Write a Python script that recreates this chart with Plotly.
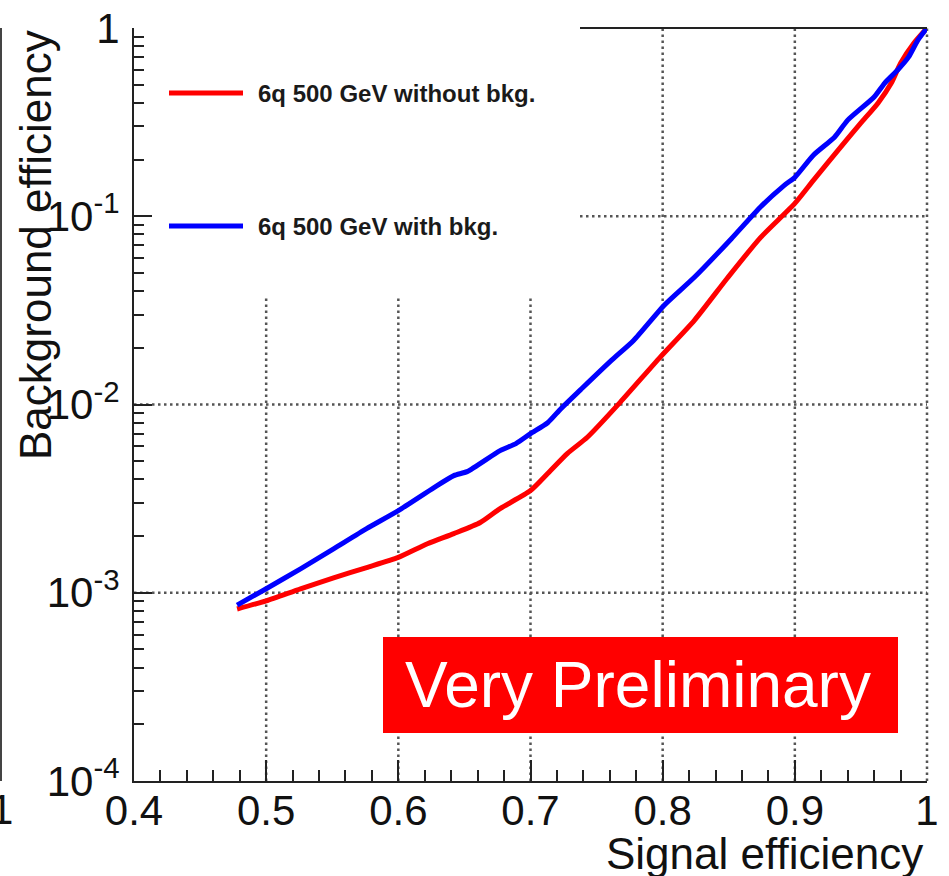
import math
import plotly.graph_objects as go

# ---------------- data ----------------
sig_eff_nobkg = [0.478, 0.500, 0.526, 0.551, 0.576, 0.600, 0.622, 0.642, 0.662, 0.677,
                 0.700, 0.713, 0.728, 0.743, 0.768, 0.798, 0.824, 0.849, 0.874, 0.900,
                 0.914, 0.937, 0.950, 0.963, 0.973, 0.980, 0.990, 1.000]
bkg_eff_nobkg = [8.2e-4, 9.06e-4, 1.05e-3, 1.20e-3, 1.36e-3, 1.54e-3, 1.82e-3, 2.06e-3, 2.36e-3, 2.80e-3,
                 3.49e-3, 4.30e-3, 5.50e-3, 6.70e-3, 1.03e-2, 1.78e-2, 2.80e-2, 4.70e-2, 7.70e-2, 0.117,
                 0.155, 0.244, 0.313, 0.400, 0.510, 0.650, 0.830, 1.000]

sig_eff_bkg = [0.478, 0.500, 0.526, 0.551, 0.576, 0.600, 0.627, 0.642, 0.652, 0.677,
               0.689, 0.700, 0.713, 0.723, 0.738, 0.761, 0.778, 0.801, 0.824, 0.852,
               0.874, 0.892, 0.900, 0.914, 0.930, 0.940, 0.960, 0.968, 0.978, 0.986,
               0.993, 1.000]
bkg_eff_bkg = [8.6e-4, 1.05e-3, 1.34e-3, 1.71e-3, 2.19e-3, 2.73e-3, 3.62e-3, 4.19e-3, 4.40e-3, 5.69e-3,
               6.20e-3, 7.00e-3, 8.00e-3, 9.50e-3, 1.20e-2, 1.71e-2, 2.19e-2, 3.36e-2, 4.74e-2, 7.60e-2,
               0.112, 0.146, 0.161, 0.211, 0.263, 0.324, 0.430, 0.510, 0.600, 0.700,
               0.860, 1.000]

series_names = ["6q 500 GeV without bkg.", "6q 500 GeV with bkg."]
series_colors = ["#ff0000", "#0000ff"]

x_tickvals = [0.4, 0.5, 0.6, 0.7, 0.8, 0.9, 1.0]
x_ticktext = ["0.4", "0.5", "0.6", "0.7", "0.8", "0.9", "1"]
x_minor = [round(0.4 + 0.02 * i, 2) for i in range(31)]
y_tickvals = [1e-4, 1e-3, 1e-2, 1e-1, 1]
y_ticktext = ["10<sup>-4</sup>", "10<sup>-3</sup>", "10<sup>-2</sup>", "10<sup>-1</sup>", "1"]
y_minor = [k * 10.0 ** e for e in range(-4, 0) for k in range(2, 10)]

x_range = [0.4, 1.0]
y_range = [-4, 0]

FONT = "Liberation Sans, Arial, Helvetica, sans-serif"
AX = "#222222"
GRID = "#555555"

fig = go.Figure()
fig.add_trace(go.Scatter(x=sig_eff_nobkg, y=bkg_eff_nobkg, mode="lines",
                         line=dict(color=series_colors[0], width=5, shape="spline", smoothing=0.6),
                         name=series_names[0], showlegend=False))
fig.add_trace(go.Scatter(x=sig_eff_bkg, y=bkg_eff_bkg, mode="lines",
                         line=dict(color=series_colors[1], width=5, shape="spline", smoothing=0.6),
                         name=series_names[1], showlegend=False))

W, H = 949, 876
L, R, T, B = 134, 22, 28, 95
pw, ph = W - L - R, H - T - B


def px_x(p):
    return (p - L) / pw


def px_y(p):
    return (H - B - p) / ph


def xdom(v):
    return (v - x_range[0]) / (x_range[1] - x_range[0])


def ydom(v):
    return (math.log10(v) - y_range[0]) / (y_range[1] - y_range[0])


shapes = []
legend_bottom = px_y(298)
legend_right = px_x(580)
# dotted grid
for v in x_tickvals[1:]:
    top = 1 if v >= 0.8 else legend_bottom
    shapes.append(dict(type="line", xref="x domain", yref="y domain",
                       x0=xdom(v), x1=xdom(v), y0=0, y1=top,
                       line=dict(color=GRID, width=2.5, dash="2.5px,3.5px"), layer="below"))
for v in y_tickvals[1:-1]:
    left = legend_right if v >= 0.1 else 0
    shapes.append(dict(type="line", xref="x domain", yref="y domain",
                       x0=left, x1=1, y0=ydom(v), y1=ydom(v),
                       line=dict(color=GRID, width=2.5, dash="2.5px,3.5px"), layer="below"))
# top frame segment
shapes.append(dict(type="line", xref="paper", yref="paper", x0=legend_right, x1=1, y0=1, y1=1,
                   line=dict(color=AX, width=2), layer="above"))
# left neighbouring pad edge
shapes.append(dict(type="line", xref="paper", yref="paper", x0=px_x(1), x1=px_x(1), y0=0, y1=1,
                   line=dict(color="#444444", width=2), layer="above"))
# Very Preliminary box
shapes.append(dict(type="rect", xref="paper", yref="paper",
                   x0=px_x(383), x1=px_x(898), y0=px_y(733), y1=px_y(637),
                   fillcolor="#ff0000", line=dict(width=0), layer="above"))
# manual legend
leg_y = [93, 226]
for c, yy in zip(series_colors, leg_y):
    shapes.append(dict(type="line", xref="paper", yref="paper",
                       x0=px_x(169), x1=px_x(243), y0=px_y(yy), y1=px_y(yy),
                       line=dict(color=c, width=5), layer="above"))

annotations = []
for n, yy in zip(series_names, leg_y):
    annotations.append(dict(text="<b>%s</b>" % n, xref="paper", yref="paper",
                            x=px_x(256), y=px_y(yy), xanchor="left", yanchor="middle",
                            showarrow=False, font=dict(family=FONT, size=24, color="#1a1a1a")))
annotations.append(dict(text="Very Preliminary", xref="paper", yref="paper",
                        x=px_x(638), y=px_y(685), xanchor="center", yanchor="middle",
                        showarrow=False, font=dict(family=FONT, size=64, color="white")))
annotations.append(dict(text="Signal efficiency", xref="paper", yref="paper",
                        x=px_x(925), y=px_y(854), xanchor="right", yanchor="middle",
                        showarrow=False, font=dict(family=FONT, size=44, color="#111111")))
annotations.append(dict(text="Background efficiency", xref="paper", yref="paper",
                        x=px_x(35), y=px_y(28), xanchor="center", yanchor="top", textangle=-90,
                        showarrow=False, font=dict(family=FONT, size=44, color="#111111")))
annotations.append(dict(text="1", xref="paper", yref="paper",
                        x=px_x(15), y=px_y(809), xanchor="right", yanchor="middle",
                        showarrow=False, font=dict(family=FONT, size=42, color="#111111")))

fig.update_layout(
    width=W, height=H, autosize=False,
    margin=dict(l=L, r=R, t=T, b=B, pad=0),
    paper_bgcolor="white", plot_bgcolor="white",
    font=dict(family=FONT, color="#111111"),
    shapes=shapes, annotations=annotations, showlegend=False,
)
fig.update_xaxes(
    range=x_range, showgrid=False, zeroline=False, automargin=False,
    showline=True, linecolor=AX, linewidth=2, mirror=False,
    tickmode="array", tickvals=x_tickvals, ticktext=x_ticktext,
    ticks="inside", ticklen=21, tickwidth=2, tickcolor=AX,
    tickfont=dict(family=FONT, size=42, color="#111111"), ticklabelstandoff=-8,
    minor=dict(tickvals=x_minor, ticks="inside", ticklen=11, tickwidth=2, tickcolor=AX, showgrid=False),
)
fig.update_yaxes(
    type="log", range=y_range, showgrid=False, zeroline=False, automargin=False,
    showline=True, linecolor=AX, linewidth=2, mirror=False,
    tickmode="array", tickvals=y_tickvals, ticktext=y_ticktext,
    ticks="inside", ticklen=18, tickwidth=2, tickcolor=AX,
    tickfont=dict(family=FONT, size=42, color="#111111"), ticklabelstandoff=4,
    minor=dict(tickvals=y_minor, ticks="inside", ticklen=10, tickwidth=2, tickcolor=AX, showgrid=False),
)

fig.write_html("out.html", config={"displayModeBar": False},
               post_script="document.body.style.margin='0px';document.body.style.overflow='hidden';")
